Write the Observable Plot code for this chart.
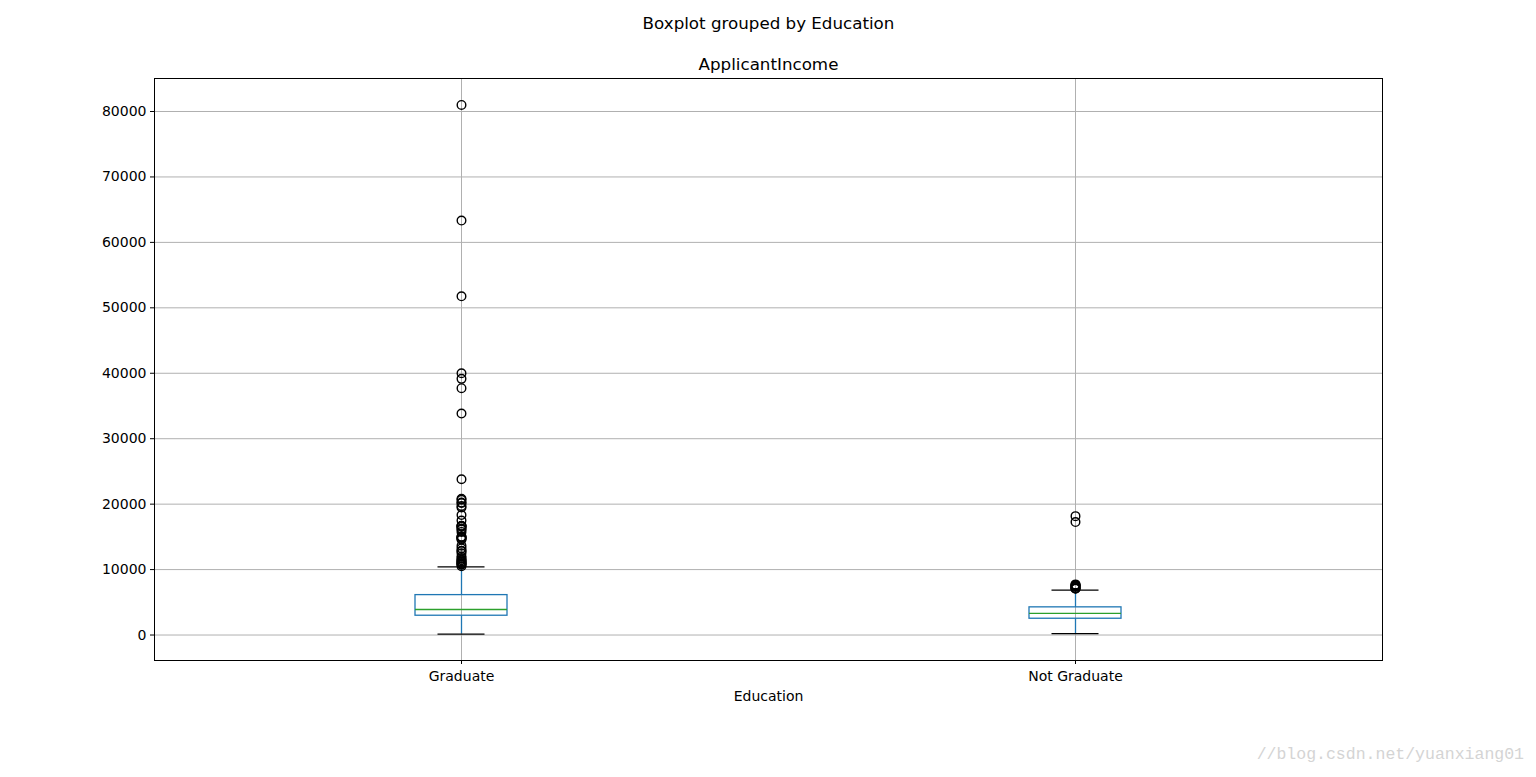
<!DOCTYPE html>
<html>
<head>
<meta charset="utf-8">
<script src="https://cdn.jsdelivr.net/npm/d3@7"></script>
<script src="https://cdn.jsdelivr.net/npm/@observablehq/plot@0.6"></script>
<style>
  html, body { margin: 0; padding: 0; background: #fff; }
  #wrap { position: relative; width: 1536px; height: 777px; }
  #wm { position: absolute; right: 12px; top: 745px; font-family: "Liberation Mono", "DejaVu Sans Mono", monospace; font-size: 16.5px; color: #d4d4d4; white-space: nowrap; }
</style>
</head>
<body>
<div id="wrap"><div id="wm">//blog.csdn.net/yuanxiang01</div></div>
<script>
const categories = ["Graduate", "Not Graduate"];
const q1 = [2950, 2490];
const median = [3900, 3310];
const q3 = [6100, 4230];
const whiskerLow = [150, 210];
const whiskerHigh = [10410, 6870];
const gradOutliers = [81000, 63337, 51763, 39999, 39147, 37719, 33846, 23803, 20833, 20667, 20233, 20166,
  19730, 19484, 18333, 17500, 16692, 16667, 16666, 16525, 16250, 16120, 15759, 15000, 14999, 14880, 14866,
  14683, 14583, 13650, 13262, 12876, 12841, 12500, 12000, 11757, 11500, 11417, 11250, 11146, 11000, 10890,
  10833, 10750, 10513];
const notGradOutliers = [18165, 17263, 7740, 7660, 7583, 7578, 7451, 7333, 7167, 7142, 7100, 7085];
const yTicks = [0, 10000, 20000, 30000, 40000, 50000, 60000, 70000, 80000];

const boxes = categories.map((c, i) => ({cat: c, q1: q1[i], med: median[i], q3: q3[i], lo: whiskerLow[i], hi: whiskerHigh[i]}));
const outliers = [
  ...gradOutliers.map(v => ({cat: categories[0], v})),
  ...notGradOutliers.map(v => ({cat: categories[1], v}))
];

const chart = Plot.plot({
  width: 1536,
  height: 777,
  marginLeft: 154,
  marginRight: 154,
  marginTop: 78,
  marginBottom: 117,
  style: {fontFamily: "DejaVu Sans", fontSize: "14px", color: "black", background: "white"},
  x: {type: "band", domain: categories, paddingInner: 0.85, paddingOuter: 0.425, label: null},
  y: {domain: [-3892, 85042], label: null},
  marks: [
    Plot.gridY(yTicks, {stroke: "#b0b0b0", strokeOpacity: 1, strokeWidth: 1}),
    Plot.gridX(categories, {stroke: "#b0b0b0", strokeOpacity: 1, strokeWidth: 1}),
    Plot.axisY(yTicks, {tickSize: 4, tickPadding: 4, tickFormat: d => String(d), label: null, fontSize: "14px"}),
    Plot.axisX(categories, {tickSize: 4, tickPadding: 7, label: null, fontSize: "14px"}),
    Plot.ruleX(boxes, {x: "cat", y1: "q3", y2: "hi", stroke: "#1f77b4", strokeWidth: 1.3}),
    Plot.ruleX(boxes, {x: "cat", y1: "lo", y2: "q1", stroke: "#1f77b4", strokeWidth: 1.3}),
    Plot.tickY(boxes, {x: "cat", y: "hi", stroke: "black", strokeWidth: 1.3, insetLeft: 22.5, insetRight: 22.5}),
    Plot.tickY(boxes, {x: "cat", y: "lo", stroke: "black", strokeWidth: 1.3, insetLeft: 22.5, insetRight: 22.5}),
    Plot.barY(boxes, {x: "cat", y1: "q1", y2: "q3", fill: "none", stroke: "#1f77b4", strokeWidth: 1.3}),
    Plot.tickY(boxes, {x: "cat", y: "med", stroke: "#2ca02c", strokeWidth: 1.3}),
    Plot.dot(outliers, {x: "cat", y: "v", r: 4.3, stroke: "black", fill: "none", strokeWidth: 1.4}),
    Plot.frame({stroke: "black", strokeWidth: 1}),
    Plot.text(["ApplicantIncome"], {frameAnchor: "top", dy: -14, lineAnchor: "middle", fontSize: "16.7px", fill: "black"}),
    Plot.text(["Boxplot grouped by Education"], {frameAnchor: "top", dy: -55, lineAnchor: "middle", fontSize: "16.7px", fill: "black"}),
    Plot.text(["Education"], {frameAnchor: "bottom", dy: 36, lineAnchor: "middle", fontSize: "14px", fill: "black"})
  ]
});
document.getElementById("wrap").prepend(chart);
</script>
</body>
</html>
